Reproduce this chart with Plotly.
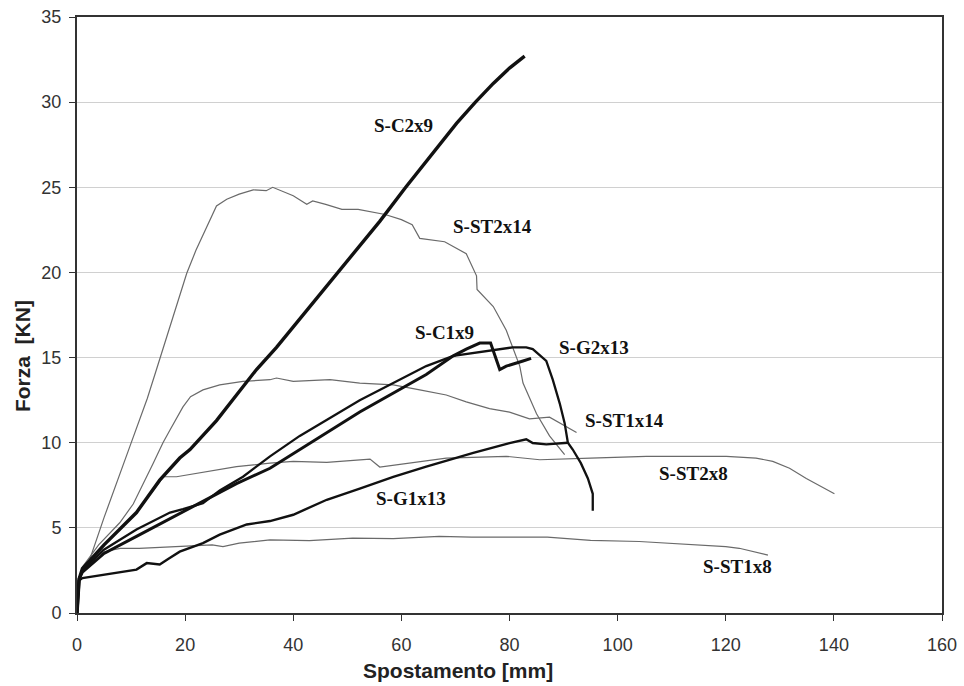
import plotly.graph_objects as go

# ---- data (displacement mm, force kN) ----
c2x9_x = [0, 0.4, 1, 5, 11, 15.3, 19, 20.9, 25.8, 29.5, 33.2, 36.9, 40, 48.3, 56, 60.8, 63.5, 66.5, 70.2, 73.7, 77, 80, 82.8]
c2x9_y = [0, 2.0, 2.6, 4.0, 5.9, 7.8, 9.1, 9.6, 11.3, 12.8, 14.3, 15.6, 16.8, 20.0, 23.0, 25.0, 26.1, 27.3, 28.75, 30.0, 31.1, 32.0, 32.7]

c1x9_x = [0, 0.4, 1, 5, 11, 17, 23, 29.5, 35.7, 41.2, 52.3, 64.6, 69.6, 72, 74.5, 76.5, 78.2, 79.4, 80.6, 82.5, 84]
c1x9_y = [0, 2.0, 2.4, 3.5, 4.5, 5.5, 6.5, 7.6, 8.5, 9.6, 11.8, 14.0, 15.1, 15.5, 15.85, 15.85, 14.3, 14.5, 14.6, 14.8, 14.95]

g2x13_x = [0, 0.4, 1, 4.9, 11, 17.2, 19.6, 23.3, 26.4, 30.7, 35.7, 41.2, 52.3, 64.6, 69.6, 74, 77, 80.6, 83.1, 84.3, 86.8, 88, 89.3, 90.2, 90.8, 91.7, 93.2, 94.5, 95.4, 95.4]
g2x13_y = [0, 2.0, 2.5, 3.7, 4.9, 5.9, 6.1, 6.45, 7.2, 8.0, 9.2, 10.4, 12.5, 14.5, 15.1, 15.3, 15.45, 15.6, 15.6, 15.5, 14.8, 13.7, 12.3, 11.15, 10.0, 9.6, 8.8, 7.9, 7.0, 6.0]

g1x13_x = [0, 0.3, 1, 7.3, 11, 12.9, 15.3, 17, 19, 23.3, 26.4, 31.4, 35.7, 40, 46.2, 52.3, 58.5, 64.6, 70.8, 73.3, 80, 83.1, 84.3, 86.8, 90.8]
g1x13_y = [0, 1.9, 2.05, 2.35, 2.55, 2.93, 2.85, 3.2, 3.6, 4.1, 4.6, 5.2, 5.4, 5.77, 6.65, 7.3, 8.0, 8.6, 9.2, 9.4, 9.98, 10.2, 9.98, 9.9, 10.0]

st2x14_x = [0, 0.4, 2.2, 5, 9.8, 13, 14.7, 17, 20.3, 22, 25.8, 27.7, 30, 32.6, 35, 36.2, 40, 42.5, 43.6, 46, 49, 52, 55, 57, 60, 62, 63.4, 68, 72, 73.9, 74, 77, 79.4, 81.9, 82.5, 85, 87.4, 90.2]
st2x14_y = [0, 2.1, 3.0, 5.6, 9.8, 12.6, 14.3, 16.6, 19.95, 21.3, 23.9, 24.3, 24.6, 24.85, 24.8, 25.0, 24.5, 24.0, 24.2, 24.0, 23.7, 23.7, 23.5, 23.4, 23.1, 22.8, 22.0, 21.8, 21.1, 19.8, 19.0, 18.0, 16.6, 14.5, 13.5, 11.7, 10.4, 9.3]

st1x14_x = [0, 0.4, 1, 4, 7.9, 10.4, 14.1, 15.9, 17.2, 19.6, 21, 23.3, 26.4, 30.7, 35.7, 36.9, 40, 46.8, 52.3, 58.5, 63.4, 68.3, 72, 76.3, 80, 83.7, 87.4, 92.4]
st1x14_y = [0, 2.1, 2.7, 4.0, 5.3, 6.4, 8.8, 10.0, 10.75, 12.1, 12.7, 13.1, 13.4, 13.6, 13.7, 13.8, 13.6, 13.7, 13.5, 13.4, 13.1, 12.8, 12.4, 12.0, 11.8, 11.4, 11.5, 10.6]

st2x8_x = [0, 0.4, 1, 5, 11, 15.5, 16, 18.4, 22.1, 29.5, 35.7, 40, 46.2, 54.2, 56, 61.6, 68.3, 79.4, 85.6, 95, 105.3, 120.1, 125.6, 128.7, 131.8, 134.9, 137.3, 140.1]
st2x8_y = [0, 2.0, 2.6, 4.0, 5.9, 7.8, 8.0, 8.0, 8.2, 8.6, 8.8, 8.9, 8.85, 9.04, 8.57, 8.8, 9.1, 9.2, 9.0, 9.1, 9.2, 9.2, 9.1, 8.9, 8.5, 7.9, 7.5, 7.0]

st1x8_x = [0, 0.4, 1, 3, 5, 8, 11.5, 20, 25, 27, 30, 35.7, 43, 51, 58.5, 67, 73, 87, 95, 104, 109, 120, 122.5, 127.8]
st1x8_y = [0, 2.0, 2.5, 3.2, 3.6, 3.8, 3.8, 3.95, 4.0, 3.9, 4.1, 4.3, 4.25, 4.4, 4.37, 4.5, 4.46, 4.46, 4.26, 4.2, 4.1, 3.9, 3.8, 3.4]

x_ticks = [0, 20, 40, 60, 80, 100, 120, 140, 160]
y_ticks = [0, 5, 10, 15, 20, 25, 30, 35]

thin = [("S-ST2x14", st2x14_x, st2x14_y), ("S-ST1x14", st1x14_x, st1x14_y),
        ("S-ST2x8", st2x8_x, st2x8_y), ("S-ST1x8", st1x8_x, st1x8_y)]
thick = [("S-G1x13", g1x13_x, g1x13_y, 2.4), ("S-G2x13", g2x13_x, g2x13_y, 2.3),
         ("S-C1x9", c1x9_x, c1x9_y, 3.0), ("S-C2x9", c2x9_x, c2x9_y, 3.4)]

fig = go.Figure()
for name, xs, ys in thin:
    fig.add_trace(go.Scatter(x=xs, y=ys, mode="lines", name=name,
                             line=dict(color="#6a6a6a", width=1.2), showlegend=False))
for name, xs, ys, w in thick:
    fig.add_trace(go.Scatter(x=xs, y=ys, mode="lines", name=name,
                             line=dict(color="#111111", width=w), showlegend=False))

labels = [("S-C2x9", 60.3, 28.65), ("S-ST2x14", 76.9, 22.7), ("S-C1x9", 67.9, 16.45),
          ("S-G2x13", 95.7, 15.6), ("S-ST1x14", 101.3, 11.3), ("S-ST2x8", 114.1, 8.2),
          ("S-G1x13", 61.7, 6.7), ("S-ST1x8", 122.1, 2.75)]
for t, lx, ly in labels:
    fig.add_annotation(x=lx, y=ly, xref="x", yref="y", text="<b>" + t + "</b>", showarrow=False,
                       font=dict(family="Liberation Serif", size=19, color="#111"))

# axis titles
fig.add_annotation(x=0.44, y=0, xref="paper", yref="paper", yshift=-57, showarrow=False,
                   text="<b>Spostamento [mm]</b>", xanchor="center", yanchor="middle",
                   font=dict(family="Liberation Sans", size=21, color="#222"))
fig.add_annotation(x=0, y=0.431, xref="paper", yref="paper", xshift=-55, showarrow=False,
                   text="<b>Forza  [KN]</b>", textangle=-90, xanchor="center", yanchor="middle",
                   font=dict(family="Liberation Sans", size=21, color="#222"))

axis_common = dict(showline=True, mirror=True, linecolor="#333", linewidth=2,
                   ticks="outside", ticklen=6, tickcolor="#333", tickwidth=1,
                   tickfont=dict(family="Liberation Sans", size=18, color="#333"),
                   zeroline=False, automargin=False, ticklabeloverflow="allow")
fig.update_xaxes(range=[0, 160], tickvals=x_ticks, showgrid=False,
                 ticklabelstandoff=8, **axis_common)
fig.update_yaxes(range=[0, 35], tickvals=y_ticks, showgrid=True, gridcolor="#d0d0d0", gridwidth=1,
                 ticklabelstandoff=4, **axis_common)
fig.update_layout(width=964, height=686, margin=dict(l=77, r=22, t=17, b=73),
                  plot_bgcolor="white", paper_bgcolor="white")
fig.write_html("out.html", config={"displayModeBar": False},
               post_script="document.body.style.margin='0';document.body.style.overflow='hidden';")
